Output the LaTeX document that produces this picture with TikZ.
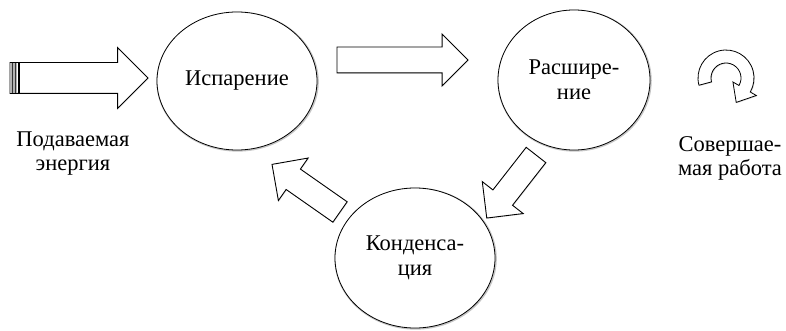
\documentclass[tikz,border=0pt]{standalone}
\usepackage{fontspec}
\setmainfont{LiberationSerif}[Extension=.ttf, UprightFont=*-Regular, BoldFont=*-Bold]
\usetikzlibrary{shapes.geometric}
\usetikzlibrary{shapes.arrows}
\usetikzlibrary{shadows}

\begin{document}
\begin{tikzpicture}[x=1pt,y=-1pt,
  stage/.style={ellipse, draw, line width=0.8pt, fill=white, inner sep=0pt, outer sep=0pt, align=center,
    font=\fontsize{22.5}{25}\selectfont,
    drop shadow={shadow xshift=0.6pt, shadow yshift=-0.6pt, shadow scale=1.015, opacity=0.45}},
  flow/.style={single arrow, draw, line width=0.9pt, fill=white, inner xsep=0pt, outer sep=0pt, anchor=tail,
    drop shadow={shadow xshift=0.8pt, shadow yshift=-0.8pt, opacity=0.2}},
  caption/.style={align=center, font=\fontsize{22.5}{24}\selectfont}]
\useasboundingbox (0,0) rectangle (786,331);
\node (evap) at (237,81) [stage, minimum width=160pt, minimum height=138pt] {Испарение};
\node (expan) at (574,80) [stage, minimum width=152pt, minimum height=140pt] {Расшире-\\ние};
\node (cond) at (415,258) [stage, minimum width=160pt, minimum height=140pt] {Конденса-\\ция};
\node (inArrow) at (10,78) [flow, inner ysep=15pt, single arrow head extend=15pt, minimum height=138pt] {};
\node (topArrow) at (337,60) [flow, inner ysep=12.5pt, single arrow head extend=13pt, minimum height=131pt] {};
\node (backArrow) at (340,212) [flow, rotate=145, inner ysep=12pt, single arrow head extend=13.5pt, minimum height=83pt] {};
\node (downArrow) at (536,155) [flow, rotate=232, inner ysep=12pt, single arrow head extend=13.5pt, minimum height=80pt] {};
\fill[gray!60] (10,63) rectangle (17,93);
\draw[line width=0.6pt, gray!40!black] (12,63) -- (12,93) (15,63) -- (15,93);
\draw[line width=1.8pt] (19,63) -- (19,93);
\node (energyLbl) at (73,154) [caption] {Подаваемая\\энергия};
\node (workLbl) at (730,158) [caption] {Совершае-\\мая работа};
\begin{scope}[shift={(726,78)}]
\draw[line width=0.8pt, fill=white, drop shadow={shadow xshift=0.8pt, shadow yshift=-0.8pt, opacity=0.3}]
  (195:28pt) arc[start angle=195, end angle=-30, radius=28pt] -- (-30:35pt) -- (10.2pt,-24.4pt)
  -- (-30:8pt) -- (-30:15pt) arc[start angle=-30, end angle=195, radius=15pt] -- cycle;
\end{scope}
\end{tikzpicture}
\end{document}
